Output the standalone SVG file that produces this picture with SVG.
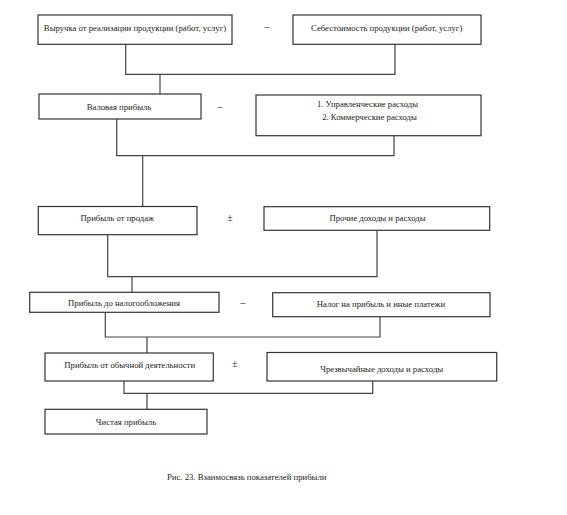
<svg xmlns="http://www.w3.org/2000/svg" width="567" height="515" viewBox="0 0 567 515">
<style>
.box{fill:#fff;stroke:#333;stroke-width:1.2}
.t{font-family:"Liberation Serif",serif;font-size:8.7px;fill:#222;text-anchor:middle}
.op{font-family:"Liberation Serif",serif;font-size:10px;fill:#222;text-anchor:middle}
.c{fill:none;stroke:#444;stroke-width:1.2}
</style>
<rect width="567" height="515" fill="#fff"/>
<g id="connectors">
<path class="c" d="M125.7 44 V74.3 H395 V44 M160 74.3 V94"/>
<path class="c" d="M116.7 119 V155.7 H394 V136 M142.7 155.7 V206.5"/>
<path class="c" d="M107.7 234.7 V276.7 H377 V230.3 M132 276.7 V292.3"/>
<path class="c" d="M105.3 312.3 V337 H380 V316.7 M147 337 V353"/>
<path class="c" d="M124 381 V393.3 H372.7 V381 M147 393.3 V409.3"/>
</g>
<g id="n1"><rect class="box" x="38" y="15" width="194" height="29.3"/><text class="t" x="135" y="30.5">Выручка от реализации продукции (работ, услуг)</text></g>
<g id="op1"><text class="op" x="267" y="30">–</text></g>
<g id="n2"><rect class="box" x="293" y="15" width="188" height="29.3"/><text class="t" x="386.7" y="30.5">Себестоимость продукции (работ, услуг)</text></g>
<g id="n3"><rect class="box" x="39" y="94" width="162" height="25"/><text class="t" x="119" y="110">Валовая прибыль</text></g>
<g id="op2"><text class="op" x="220" y="110">–</text></g>
<g id="n4"><rect class="box" x="256" y="95" width="225" height="40.7"/><text class="t" x="367.5" y="107">1. Управленческие расходы</text><text class="t" x="369.5" y="119.5">2. Коммерческие расходы</text></g>
<g id="n5"><rect class="box" x="38.3" y="206.5" width="158.7" height="28.2"/><text class="t" x="117.3" y="220.5">Прибыль от продаж</text></g>
<g id="op3"><text class="op" x="230" y="220.5">±</text></g>
<g id="n6"><rect class="box" x="264" y="206.7" width="225.7" height="23.6"/><text class="t" x="377.5" y="220.5">Прочие доходы и расходы</text></g>
<g id="n7"><rect class="box" x="29.7" y="292.3" width="189.3" height="20"/><text class="t" x="124" y="305.8">Прибыль до налогообложения</text></g>
<g id="op4"><text class="op" x="242.7" y="306">–</text></g>
<g id="n8"><rect class="box" x="272.7" y="292.7" width="217.3" height="24"/><text class="t" x="381" y="306.8">Налог на прибыль и иные платежи</text></g>
<g id="n9"><rect class="box" x="45" y="353" width="168.3" height="28"/><text class="t" x="129.7" y="367.5">Прибыль от обычной деятельности</text></g>
<g id="op5"><text class="op" x="234.7" y="366.5">±</text></g>
<g id="n10"><rect class="box" x="267" y="352.5" width="229.7" height="28.5"/><text class="t" x="381.7" y="372">Чрезвычайные доходы и расходы</text></g>
<g id="n11"><rect class="box" x="45" y="409.3" width="162" height="24.7"/><text class="t" x="126" y="424.8">Чистая прибыль</text></g>
<text class="t" x="246.7" y="479.8">Рис. 23. Взаимосвязь показателей прибыли</text>
</svg>
